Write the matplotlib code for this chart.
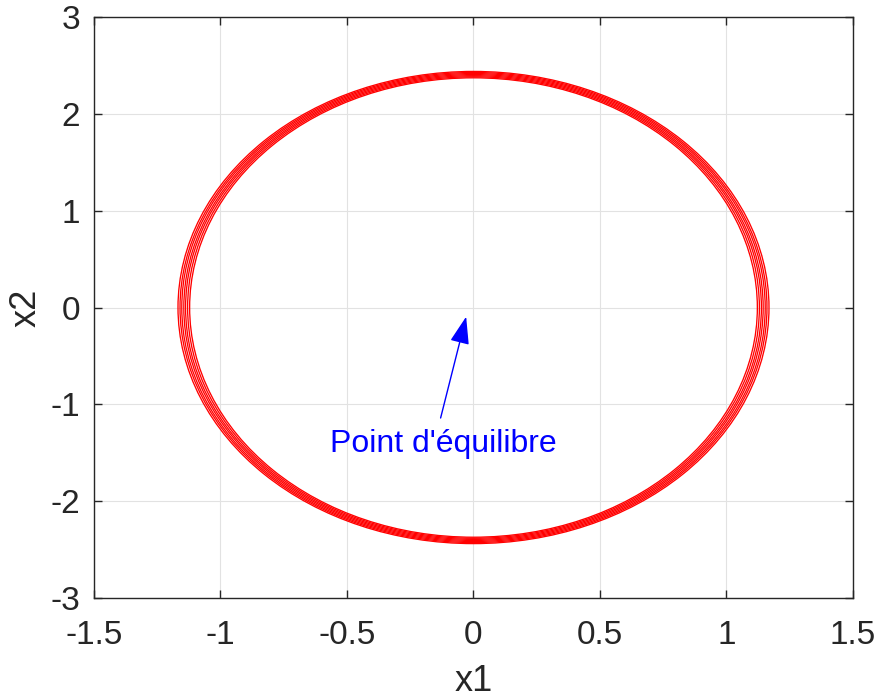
import matplotlib
matplotlib.use("Agg")
import matplotlib.pyplot as plt
from matplotlib.patches import Ellipse

# Successive loops of the trajectory in the phase plane (semi-axes)
loop_x1_amp = [1.122, 1.130, 1.138, 1.145, 1.153, 1.160, 1.168]
loop_x2_amp = [2.372, 2.383, 2.394, 2.405, 2.416, 2.427, 2.438]

x_ticks = [-1.5, -1, -0.5, 0, 0.5, 1, 1.5]
y_ticks = [-3, -2, -1, 0, 1, 2, 3]
x_tick_labels = ["-1.5", "-1", "-0.5", "0", "0.5", "1", "1.5"]
y_tick_labels = ["-3", "-2", "-1", "0", "1", "2", "3"]

equilibrium = (0.0, 0.0)
arrow_tip = (-0.029, -0.095)
arrow_tail = (-0.130, -1.141)
label_pos = (-0.119, -1.49)
label_text = "Point d'équilibre"

plt.rcParams["font.family"] = ["Liberation Sans", "DejaVu Sans"]
axis_color = "#262626"

fig = plt.figure(figsize=(8.81, 6.97), dpi=100)
ax = fig.add_axes([0.1067, 0.142, 0.8615, 0.8336])

for a1, a2 in zip(loop_x1_amp, loop_x2_amp):
    ax.add_patch(Ellipse(equilibrium, 2 * a1, 2 * a2, fill=False,
                         edgecolor="red", linewidth=0.95, zorder=3))

ax.annotate("", xy=arrow_tip, xytext=arrow_tail,
            arrowprops=dict(arrowstyle="-|>,head_length=0.85,head_width=0.3",
                            mutation_scale=20, color="blue", lw=1.0,
                            shrinkA=0, shrinkB=0), zorder=4)
ax.text(label_pos[0], label_pos[1], label_text, color="blue", fontsize=23,
        ha="center", va="baseline", zorder=4)

ax.set_xlim(-1.5, 1.5)
ax.set_ylim(-3, 3)
ax.set_xticks(x_ticks)
ax.set_xticklabels(x_tick_labels)
ax.set_yticks(y_ticks)
ax.set_yticklabels(y_tick_labels)

ax.grid(True, color="#e2e2e2", linewidth=0.8, zorder=0)
ax.set_axisbelow(True)
ax.tick_params(direction="in", length=6, width=1.0, colors=axis_color,
               labelsize=24, top=True, right=True)
ax.tick_params(axis="x", pad=16)
ax.tick_params(axis="y", pad=10)
for sp in ax.spines.values():
    sp.set_color(axis_color)
    sp.set_linewidth(1.0)

ax.set_xlabel("x1", fontsize=26, color=axis_color, labelpad=9)
ax.set_ylabel("x2", fontsize=26, color=axis_color, labelpad=5)

fig.savefig("out.png", dpi=100)
